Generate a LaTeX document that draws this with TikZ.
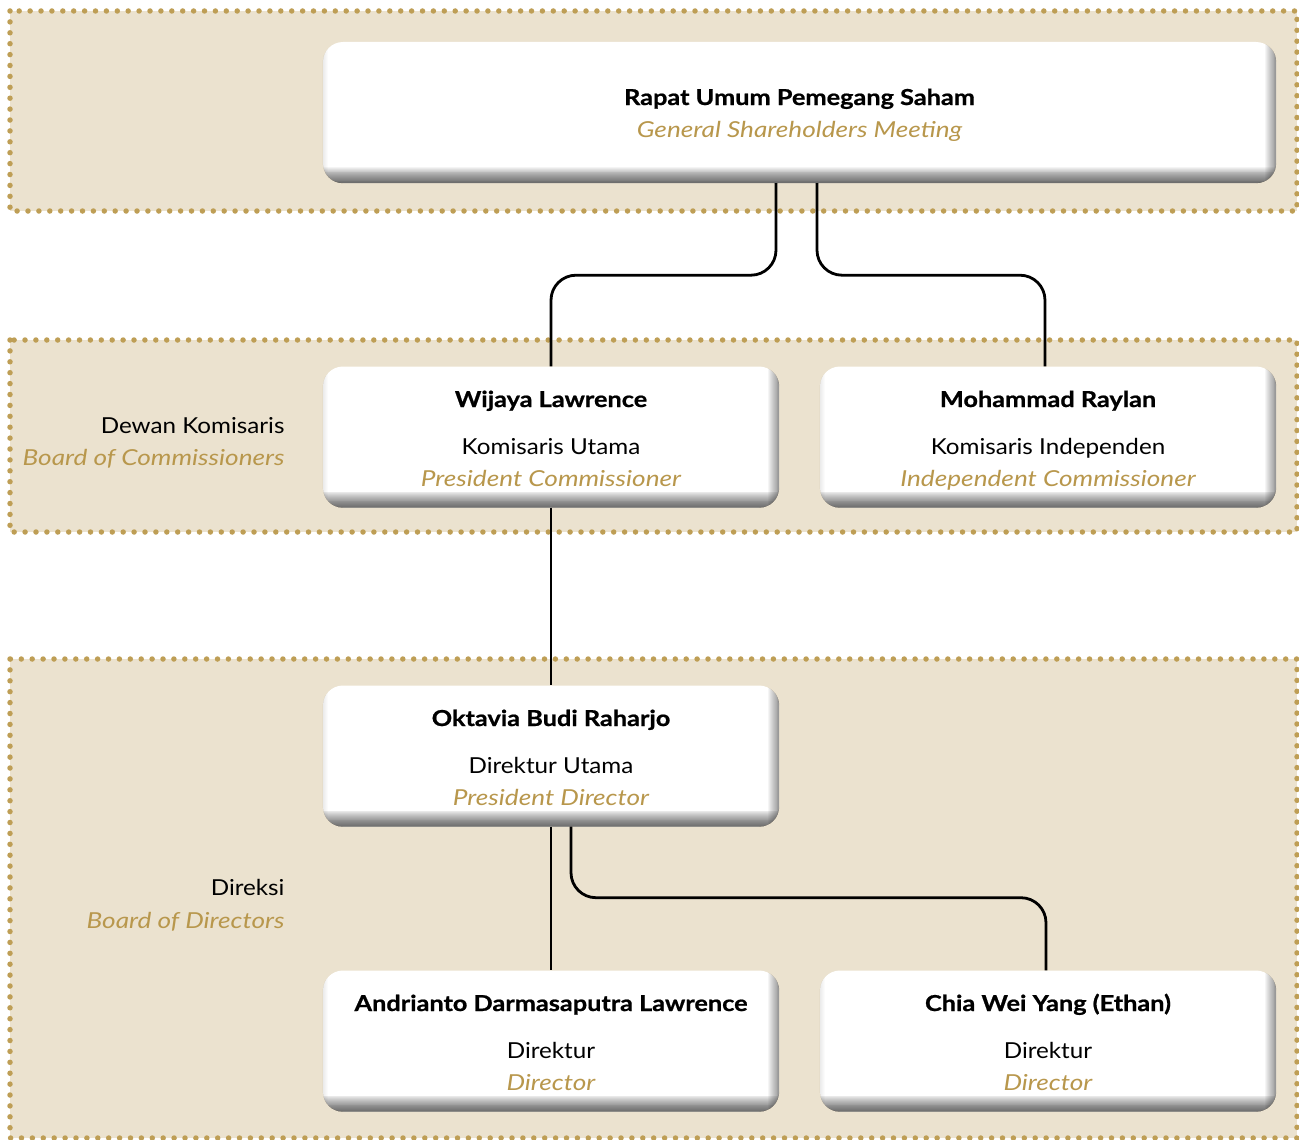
\documentclass[tikz,border=0pt]{standalone}
\usepackage{fontspec}
\setmainfont{Lato}[FakeStretch=1.10, BoldFeatures={FakeStretch=1.15, FakeBold=0.8}, ItalicFeatures={FakeStretch=1.19}]
\definecolor{band}{HTML}{EBE2CF}
\definecolor{gold}{HTML}{BE9E55}
\definecolor{goldtext}{HTML}{B8974C}
\newcommand\orgshade[1]{%
  \begin{scope}
    \clip[rounded corners=20pt] (#1.south west) rectangle (#1.north east);
    \foreach \i in {1,...,18} {
      \fill[black, opacity=0.045] ([yshift=\i*0.9pt]#1.south west) rectangle ([yshift=-2pt]#1.south east);
    }
    \foreach \i in {1,...,12} {
      \fill[black, opacity=0.04] ([xshift=-\i*0.9pt]#1.north east) rectangle ([xshift=2pt]#1.south east);
    }
    \foreach \i in {1,...,5} {
      \fill[black, opacity=0.015] ([xshift=\i*1pt]#1.north west) rectangle ([xshift=-2pt]#1.south west);
    }
  \end{scope}}
\begin{document}
\begin{tikzpicture}[x=1pt,y=-1pt,
  bandfill/.style={fill=band},
  dots/.style={draw=gold, line width=5.5pt, line cap=round, dash pattern=on 0pt off 10.9pt},
  orgbox/.style={rounded corners=20pt, fill=white, inner sep=0pt, minimum height=141pt},
  titletext/.style={font=\bfseries\fontsize{22}{26}\selectfont, anchor=base},
  roletext/.style={font=\fontsize{22}{26}\selectfont, anchor=base},
  engtext/.style={font=\itshape\fontsize{22}{26}\selectfont, text=goldtext, anchor=base},
  conn/.style={draw=black, line width=2.8pt, rounded corners=25pt}]
\useasboundingbox (0,0) rectangle (1299,1140);
% bands
\fill[bandfill] (10,11) rectangle (1297,211);
\draw[dots] (10,11) rectangle (1297,211);
\fill[bandfill] (10,340) rectangle (1297,532);
\draw[dots] (10,340) rectangle (1297,532);
\fill[bandfill] (10,659) rectangle (1297,1138);
\draw[dots] (10,659) rectangle (1297,1138);
% side labels
\node[roletext, anchor=base east] (dk) at (288,433) {Dewan Komisaris};
\node[engtext, anchor=base east] (boc) at (288,465) {Board of Commissioners};
\node[roletext, anchor=base east] (dr) at (288,895) {Direksi};
\node[engtext, anchor=base east] (bod) at (288,928) {Board of Directors};
% boxes
\node[orgbox, minimum width=953pt] (rups) at (799.5,112.5) {};
\node[orgbox, minimum width=456pt] (wij) at (551,437) {};
\node[orgbox, minimum width=456pt] (moh) at (1048,437) {};
\node[orgbox, minimum width=456pt] (okt) at (551,756) {};
\node[orgbox, minimum width=456pt] (and) at (551,1041) {};
\node[orgbox, minimum width=456pt] (chia) at (1048,1041) {};
% connectors
\draw[conn] ([xshift=-23.5pt]rups.south) -- ++(0,92) -| (wij.north);
\draw[conn] ([xshift=17.5pt]rups.south) -- ++(0,92) -| ([xshift=-3pt]moh.north);
\draw[conn] (wij.south) -- (okt.north);
\draw[conn] (okt.south) -- (and.north);
\draw[conn] ([xshift=20pt]okt.south) -- ++(0,71) -| ([xshift=-2pt]chia.north);
% box shading
\orgshade{rups}
\orgshade{wij}
\orgshade{moh}
\orgshade{okt}
\orgshade{and}
\orgshade{chia}
% texts
\node[titletext] (rupst) at (799.5,105) {Rapat Umum Pemegang Saham};
\node[engtext] (rupse) at (799.5,137) {General Shareholders Meeting};
\node[titletext] (wijt) at (551,407) {Wijaya Lawrence};
\node[roletext] (wijr) at (551,454) {Komisaris Utama};
\node[engtext] (wije) at (551,486) {President Commissioner};
\node[titletext] (moht) at (1048,407) {Mohammad Raylan};
\node[roletext] (mohr) at (1048,454) {Komisaris Independen};
\node[engtext] (mohe) at (1048,486) {Independent Commissioner};
\node[titletext] (oktt) at (551,726) {Oktavia Budi Raharjo};
\node[roletext] (oktr) at (551,773) {Direktur Utama};
\node[engtext] (okte) at (551,805) {President Director};
\node[titletext] (andt) at (551,1011) {Andrianto Darmasaputra Lawrence};
\node[roletext] (andr) at (551,1058) {Direktur};
\node[engtext] (ande) at (551,1090) {Director};
\node[titletext] (chiat) at (1048,1011) {Chia Wei Yang (Ethan)};
\node[roletext] (chiar) at (1048,1058) {Direktur};
\node[engtext] (chiae) at (1048,1090) {Director};
\end{tikzpicture}
\end{document}
